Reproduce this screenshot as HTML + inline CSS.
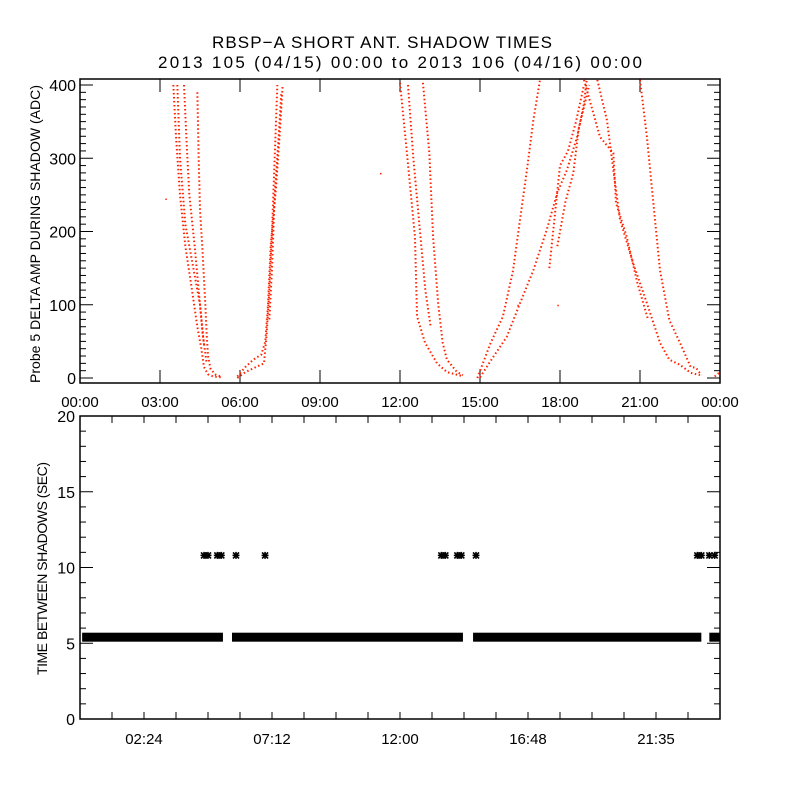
<!DOCTYPE html>
<html><head><meta charset="utf-8"><style>
body{margin:0;background:#fff;}
svg{display:block;font-family:"Liberation Sans",sans-serif;}
</style></head><body>
<svg id="chart" width="800" height="800" viewBox="0 0 800 800">
<rect width="800" height="800" fill="#fff"/>
<text x="212" y="48" font-size="17" textLength="340" lengthAdjust="spacing">RBSP−A SHORT ANT. SHADOW TIMES</text>
<text x="158" y="68" font-size="17" textLength="484" lengthAdjust="spacing">2013 105 (04/15) 00:00 to 2013 106 (04/16) 00:00</text>
<g id="topPanel"></g>
<g id="botPanel"></g>
<text transform="translate(40,383) rotate(-90)" font-size="14" textLength="298" lengthAdjust="spacing">Probe 5 DELTA AMP DURING SHADOW (ADC)</text>
<text transform="translate(47,675) rotate(-90)" font-size="14" textLength="213" lengthAdjust="spacing">TIME BETWEEN SHADOWS (SEC)</text>
</svg>
<script>
// ---- top panel data (hours, ADC) ----
const topTicksX = ["00:00","03:00","06:00","09:00","12:00","15:00","18:00","21:00","00:00"];
const topTicksY = [0,100,200,300,400];
const trackA1 = [[3.5,400],[3.6,330],[3.75,250],[3.95,180],[4.2,120],[4.4,70],[4.55,40],[4.65,15],[4.8,5],[5.0,2],[5.3,1]];
const trackA2 = [[4.4,390],[4.45,300],[4.5,230],[4.6,170],[4.7,100],[4.75,60],[4.8,30],[4.9,12],[5.1,4],[5.3,2]];
const trackA3 = [[3.9,400],[4.0,320],[4.1,250],[4.3,180],[4.45,120],[4.6,60],[4.75,20]];
const trackA4 = [[3.65,400],[3.75,300],[3.95,210],[4.25,150],[4.5,100],[4.65,45]];
const trackB1 = [[5.9,0],[6.2,8],[6.6,15],[6.9,20],[7.0,60],[7.1,120],[7.2,200],[7.3,300],[7.4,400]];
const trackB2 = [[5.9,2],[6.2,15],[6.5,25],[6.8,32],[6.95,50],[7.05,100],[7.15,180],[7.35,260],[7.5,340],[7.6,400]];
const trackB3 = [[7.1,80],[7.2,150],[7.3,250],[7.45,330],[7.55,390]];
const trackC1 = [[12.0,403],[12.26,307],[12.56,193],[12.64,84],[12.94,48],[13.39,20],[13.76,8],[14.3,3]];
const trackC2 = [[12.86,403],[13.1,307],[13.24,193],[13.43,102],[13.6,48],[13.76,25],[14.14,8],[14.36,4]];
const trackC3 = [[12.3,400],[12.5,300],[12.75,200],[12.95,120],[13.15,70]];
const trackD1 = [[14.9,0],[15.4,48],[15.86,84],[16.24,147],[16.5,216],[16.76,284],[17.0,352],[17.25,407]];
const trackD2 = [[15.0,1],[15.5,29],[16.0,56],[16.5,102],[17.0,147],[17.5,202],[17.9,253],[18.26,284],[18.64,329],[18.9,375],[19.0,407]];
const trackD3 = [[17.6,150],[17.8,220],[18.0,290],[18.3,310],[18.6,350],[18.9,400]];
const trackD4 = [[17.9,180],[18.2,240],[18.5,280],[18.7,340],[19.1,400]];
const trackE1 = [[21.0,407],[21.26,329],[21.5,239],[21.75,147],[22.1,79],[22.5,48],[22.9,15],[23.1,14],[23.3,4]];
const trackE2 = [[19.4,407],[19.76,352],[20.0,284],[20.25,216],[20.74,157],[21.26,102],[21.75,48],[22.1,25],[22.5,18],[22.9,7],[23.25,4]];
const trackE3 = [[18.9,407],[19.5,329],[20.0,307],[20.1,239],[20.5,193],[20.9,130],[21.3,80]];
const trackF = [[23.8,2],[24.0,8]];
const strayPts = [[3.2,245],[11.25,280],[16.4,100],[17.9,100]];
// ---- bottom panel data ----
const botTicksX = ["02:24","07:12","12:00","16:48","21:35"];
const botTicksY = [0,5,10,15,20];
const bandValue = 5.4;
const bandSegments = [[0.08,5.36],[5.7,14.36],[14.74,23.3],[23.6,24.0]];
const highTimes = [4.65,4.8,5.15,5.3,5.85,6.94,13.55,13.7,14.15,14.3,14.85,23.15,23.3,23.6,23.8];
const highValue = 10.8;

const NS="http://www.w3.org/2000/svg";
function mk(parent,tag,attrs){const e=document.createElementNS(NS,tag);for(const k in attrs)e.setAttribute(k,attrs[k]);parent.appendChild(e);return e;}
const L=80,R=720;
const tx=h=>L+(h/24)*(R-L);
const ty=v=>378-v*0.7325;
const by=v=>719-v*(303/20);
const topG=document.getElementById('topPanel'), botG=document.getElementById('botPanel');

// top axes
let box=mk(topG,'rect',{x:L,y:79,width:R-L,height:304,fill:'none',stroke:'#000','stroke-width':1.5});


for(let v=0;v<=400;v+=10){
  const len=(v%100===0)?13:6;
  mk(topG,'line',{x1:L,x2:L+len,y1:ty(v),y2:ty(v),stroke:'#000'});
  mk(topG,'line',{x1:R,x2:R-len,y1:ty(v),y2:ty(v),stroke:'#000'});
}
topTicksY.forEach(v=>{const t=mk(topG,'text',{x:L-4,y:ty(v)+6,'font-size':16,'text-anchor':'end'});t.textContent=v;

});
topTicksX.forEach((s,i)=>{const x=tx(i*3);
  mk(topG,'line',{x1:x,x2:x,y1:383,y2:370,stroke:'#000'});
  mk(topG,'line',{x1:x,x2:x,y1:79,y2:92,stroke:'#000'});
  const t=mk(topG,'text',{x:x,y:407,'font-size':15,'text-anchor':'middle'});t.textContent=s;
  
  });
const tracks=[trackA1,trackA2,trackA3,trackA4,trackB1,trackB2,trackB3,trackC1,trackC2,trackC3,trackD1,trackD2,trackD3,trackD4,trackE1,trackE2,trackE3,trackF];
tracks.forEach(tr=>{
  const p=mk(topG,'polyline',{points:tr.map(d=>tx(d[0])+','+ty(Math.min(d[1],409))).join(' '),fill:'none',stroke:'#ff2200','stroke-width':2,'stroke-dasharray':'1.5 2.5'});
  
  
});
strayPts.forEach(d=>{const r=mk(topG,'rect',{x:tx(d[0]),y:ty(d[1]),width:1.5,height:1.5,fill:'#ff2200'});

});

// bottom axes
box=mk(botG,'rect',{x:L,y:416,width:R-L,height:303,fill:'none',stroke:'#000','stroke-width':1.5});


for(let v=0;v<=20;v++){
  const len=(v%5===0)?13:6;
  mk(botG,'line',{x1:L,x2:L+len,y1:by(v),y2:by(v),stroke:'#000'});
  mk(botG,'line',{x1:R,x2:R-len,y1:by(v),y2:by(v),stroke:'#000'});
}
botTicksY.forEach(v=>{const t=mk(botG,'text',{x:L-5,y:by(v)+6,'font-size':16,'text-anchor':'end'});t.textContent=v;

});
for(let i=1;i<20;i++){const x=tx(i*1.2);
  mk(botG,'line',{x1:x,x2:x,y1:719,y2:712,stroke:'#000'});
  mk(botG,'line',{x1:x,x2:x,y1:416,y2:423,stroke:'#000'});}
botTicksX.forEach((s,i)=>{const t=mk(botG,'text',{x:tx((i+0.5)*4.8),y:744,'font-size':15,'text-anchor':'middle'});t.textContent=s;

});
bandSegments.forEach(s=>{const r=mk(botG,'rect',{x:tx(s[0]),y:by(bandValue)-4.5,width:tx(s[1])-tx(s[0]),height:9,fill:'#000'});

});
highTimes.forEach(h=>{const x=tx(h),y=by(highValue);
  const p=mk(botG,'path',{d:`M${x-3.5} ${y}H${x+3.5}M${x} ${y-3.5}V${y+3.5}M${x-3} ${y-3}L${x+3} ${y+3}M${x-3} ${y+3}L${x+3} ${y-3}`,stroke:'#000','stroke-width':1.6});
  
  });
</script>
</body></html>
